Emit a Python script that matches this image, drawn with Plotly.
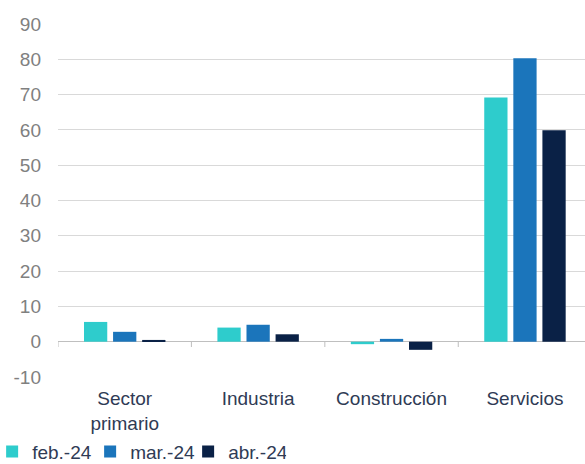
import plotly.graph_objects as go

categories = ["Sector<br>primario", "Industria", "Construcción", "Servicios"]
series_names = ["feb.-24", "mar.-24", "abr.-24"]
feb_values = [5.6, 4.0, -0.7, 69.2]
mar_values = [2.8, 4.8, 0.8, 80.3]
abr_values = [0.5, 2.1, -2.3, 59.9]
y_ticks = [-10, 0, 10, 20, 30, 40, 50, 60, 70, 80, 90]
y_tick_labels = [str(v) for v in y_ticks]

colors = ["#2ECCCC", "#1B75BB", "#0A2146"]
values = [feb_values, mar_values, abr_values]

fig = go.Figure()
for name, vals, col in zip(series_names, values, colors):
    fig.add_trace(go.Bar(
        x=categories, y=vals, name=name,
        marker=dict(color=col, line=dict(width=0)),
    ))

# small tick marks on the zero line at category boundaries
shapes = []
for i in range(len(categories)):
    shapes.append(dict(type="line", xref="x", yref="y",
                       x0=i - 0.5, x1=i - 0.5, y0=0, y1=-1.5,
                       line=dict(color="#BFBFBF", width=1)))

fig.update_layout(
    width=585, height=464,
    margin=dict(l=58, r=0, t=24, b=87, autoexpand=False),
    paper_bgcolor="white", plot_bgcolor="white",
    barmode="group", bargap=0.346, bargroupgap=0.2,
    font=dict(family="Liberation Sans, Arial, sans-serif", size=19, color="#595959"),
    showlegend=True,
    legend=dict(orientation="h", xref="paper", yref="paper",
                x=-0.125, xanchor="left", y=-0.265, yanchor="bottom",
                bgcolor="rgba(0,0,0,0)",
                font=dict(size=19, color="#2F3B55"),
                itemwidth=30, entrywidth=53, traceorder="normal"),
    shapes=shapes,
    xaxis=dict(range=[-0.5, 3.45], showgrid=False, showline=False,
               ticks="", tickfont=dict(size=19, color="#2F3B55"),
               ticklabelstandoff=8, fixedrange=True, automargin=False),
    yaxis=dict(range=[-10, 90], tickvals=y_ticks, ticktext=y_tick_labels,
               showgrid=True, gridcolor="#D9D9D9", gridwidth=1,
               zeroline=True, zerolinecolor="#BFBFBF", zerolinewidth=1,
               showline=False, ticks="", ticklabelstandoff=16, automargin=False,
               tickfont=dict(size=19, color="#808080")),
)

fig.write_html("out.html", config={"displayModeBar": False},
               post_script="document.body.style.margin='0px';")
